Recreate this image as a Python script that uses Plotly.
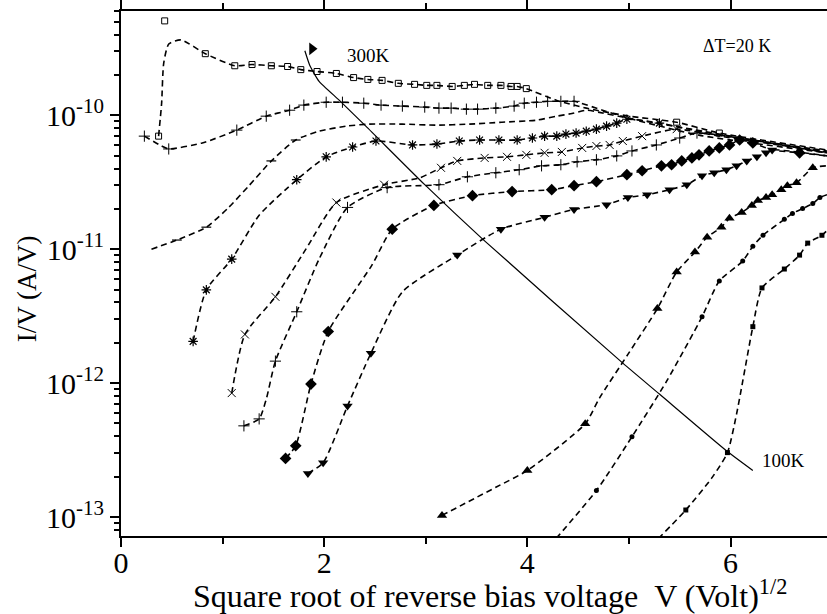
import plotly.graph_objects as go

# ---------------- data ----------------
# 300 K (open squares)
X300 = [0.43, None, 0.37, 0.40, 0.42, 0.47, 0.59, 0.83, 1.12, 1.29, 1.48, 1.64, 1.77, 1.93, 2.12, 2.29, 2.43,
        2.57, 2.73, 2.89, 3.01, 3.11, 3.26, 3.38, 3.48, 3.61, 3.74, 3.84, 3.90, 3.99, 4.29, 4.58, 5.00, 5.47,
        5.89, 6.95]
Y300 = [5.06e-10, None, 6.98e-11, 1.23e-10, 2.43e-10, 3.40e-10, 3.65e-10, 2.88e-10, 2.34e-10, 2.39e-10,
        2.34e-10, 2.31e-10, 2.19e-10, 2.12e-10, 2.05e-10, 1.91e-10, 1.85e-10, 1.82e-10, 1.73e-10, 1.70e-10,
        1.67e-10, 1.67e-10, 1.64e-10, 1.67e-10, 1.70e-10, 1.67e-10, 1.67e-10, 1.64e-10, 1.64e-10, 1.58e-10,
        1.29e-10, 1.13e-10, 9.84e-11, 8.87e-11, 7.36e-11, 5.51e-11]
K300 = [1, 0, 1, 0, 0, 0, 0, 1, 1, 1, 1, 1, 1, 1, 1, 1, 1, 1, 1, 1, 1, 1, 1, 1, 1, 1, 1, 1, 1, 1, 0, 0, 0, 1, 1, 0]

# 280 K (plus)
X280 = [0.23, 0.40, 0.47, 0.80, 1.14, 1.43, 1.66, 1.80, 2.02, 2.18, 2.39, 2.56, 2.77, 2.99, 3.13, 3.25, 3.40,
        3.51, 3.69, 3.87, 3.97, 4.09, 4.20, 4.33, 4.46, 4.74, 5.00, 5.69, 6.95]
Y280 = [6.98e-11, 5.89e-11, 5.60e-11, 6.21e-11, 7.74e-11, 9.84e-11, 1.09e-10, 1.19e-10, 1.25e-10, 1.25e-10,
        1.23e-10, 1.19e-10, 1.17e-10, 1.15e-10, 1.13e-10, 1.13e-10, 1.11e-10, 1.11e-10, 1.13e-10, 1.17e-10,
        1.23e-10, 1.25e-10, 1.27e-10, 1.27e-10, 1.27e-10, 1.09e-10, 9.50e-11, 7.10e-11, 5.24e-11]
K280 = [1, 0, 1, 0, 1, 1, 1, 1, 1, 1, 1, 1, 1, 1, 1, 1, 1, 1, 1, 1, 1, 1, 1, 1, 1, 0, 0, 0, 0]

# 260 K (dash)
X260 = [0.30, 0.55, 0.84, 1.06, 1.26, 1.48, 1.72, 1.95, 2.22, 2.44, 2.77, 3.10, 3.43, 3.75, 4.09, 4.29, 4.44,
        4.58, 4.71, 5.00, 6.95]
Y260 = [1.00e-11, 1.17e-11, 1.46e-11, 2.05e-11, 2.98e-11, 4.56e-11, 6.53e-11, 7.60e-11, 8.29e-11, 8.58e-11,
        8.58e-11, 8.43e-11, 8.58e-11, 8.87e-11, 9.18e-11, 9.84e-11, 1.03e-10, 1.09e-10, 1.05e-10, 9.50e-11,
        5.24e-11]
K260 = [0, 1, 1, 0, 0, 1, 1, 0, 0, 0, 0, 0, 0, 0, 0, 0, 0, 0, 0, 0, 0]

# 240 K (asterisk)
X240 = [0.71, 0.84, 1.09, 1.36, 1.73, 2.02, 2.28, 2.51, 2.87, 3.11, 3.33, 3.53, 3.72, 3.90, 4.05, 4.17, 4.29,
        4.38, 4.48, 4.58, 4.68, 4.78, 4.88, 4.98, 5.30, 5.69, 6.09, 6.95]
Y240 = [2.05e-12, 4.97e-12, 8.43e-12, 1.79e-11, 3.30e-11, 4.89e-11, 5.79e-11, 6.42e-11, 6.00e-11, 6.10e-11,
        6.42e-11, 6.53e-11, 6.53e-11, 6.53e-11, 6.76e-11, 6.98e-11, 6.98e-11, 7.23e-11, 7.36e-11, 7.60e-11,
        7.87e-11, 8.29e-11, 8.73e-11, 9.33e-11, 8.73e-11, 7.60e-11, 6.76e-11, 5.41e-11]
K240 = [1, 1, 1, 0, 1, 1, 1, 1, 1, 1, 1, 1, 1, 1, 1, 1, 1, 1, 1, 1, 1, 1, 1, 1, 1, 0, 0, 0]

# 220 K (cross)
X220 = [1.09, 1.22, 1.52, 1.82, 2.12, 2.59, 2.94, 3.15, 3.31, 3.58, 3.80, 3.99, 4.17, 4.34, 4.54, 4.68, 4.81,
        4.94, 5.13, 5.47, 5.89, 6.95]
Y220 = [8.43e-13, 2.31e-12, 4.41e-12, 1.00e-11, 2.23e-11, 3.03e-11, 3.41e-11, 4.05e-11, 4.56e-11, 4.80e-11,
        4.89e-11, 5.06e-11, 5.24e-11, 5.32e-11, 5.70e-11, 5.89e-11, 6.00e-11, 6.42e-11, 6.98e-11, 7.87e-11,
        6.98e-11, 5.32e-11]
K220 = [1, 1, 1, 0, 1, 1, 0, 1, 1, 1, 1, 1, 1, 1, 1, 1, 1, 1, 1, 1, 0, 0]

# 200 K (plus)
X200 = [1.21, 1.36, 1.43, 1.52, 1.73, 1.95, 2.23, 2.62, 3.13, 3.41, 3.69, 3.92, 4.14, 4.33, 4.49, 4.68, 4.88,
        5.03, 5.27, 5.50, 5.67, 6.95]
Y200 = [4.80e-13, 5.41e-13, 7.60e-13, 1.46e-12, 3.41e-12, 8.43e-12, 2.05e-11, 2.88e-11, 3.03e-11, 3.47e-11,
        3.72e-11, 3.92e-11, 4.19e-11, 4.27e-11, 4.49e-11, 4.65e-11, 4.97e-11, 5.41e-11, 6.00e-11, 6.76e-11,
        7.36e-11, 5.24e-11]
K200 = [1, 1, 0, 1, 1, 0, 1, 1, 1, 1, 1, 1, 1, 1, 1, 1, 1, 1, 1, 1, 1, 0]

# 180 K (filled diamond)
X180 = [1.62, 1.72, 1.87, 2.04, 2.47, 2.67, 3.08, 3.46, 3.85, 4.24, 4.46, 4.68, 4.98, 5.13, 5.32, 5.42, 5.52,
        5.62, 5.69, 5.79, 5.89, 5.99, 6.09, 6.22, 6.41, 6.68, 6.95]
Y180 = [2.74e-13, 3.41e-13, 9.84e-13, 2.43e-12, 7.60e-12, 1.41e-11, 2.12e-11, 2.51e-11, 2.69e-11, 2.78e-11,
        2.98e-11, 3.19e-11, 3.60e-11, 3.85e-11, 4.19e-11, 4.27e-11, 4.56e-11, 4.80e-11, 5.06e-11, 5.41e-11,
        5.70e-11, 6.00e-11, 6.53e-11, 6.21e-11, 5.51e-11, 5.24e-11, 4.97e-11]
K180 = [1, 1, 1, 1, 0, 1, 1, 1, 1, 1, 1, 1, 1, 1, 1, 1, 1, 1, 1, 1, 1, 1, 1, 1, 0, 1, 0]

# 160 K (filled down triangle)
X160 = [1.84, 1.99, 2.23, 2.46, 2.77, 3.31, 3.74, 4.17, 4.46, 4.78, 4.99, 5.18, 5.40, 5.57, 5.72, 5.84, 5.96,
        6.06, 6.16, 6.26, 6.35, 6.41, 6.95]
Y160 = [2.12e-13, 2.55e-13, 6.76e-13, 1.67e-12, 4.80e-12, 9.03e-12, 1.41e-11, 1.73e-11, 1.98e-11, 2.15e-11,
        2.43e-11, 2.55e-11, 2.78e-11, 3.03e-11, 3.53e-11, 3.72e-11, 3.92e-11, 4.19e-11, 4.56e-11, 4.89e-11,
        5.24e-11, 5.51e-11, 4.97e-11]
K160 = [1, 1, 1, 1, 0, 1, 1, 1, 1, 1, 1, 1, 1, 1, 1, 1, 1, 1, 1, 1, 1, 1, 0]

# 140 K (filled up triangle)
X140 = [3.16, 3.69, 4.00, 4.57, 4.71, 4.99, 5.28, 5.47, 5.65, 5.77, 5.91, 5.99, 6.11, 6.21, 6.27, 6.35, 6.41,
        6.50, 6.56, 6.65, 6.81, 6.95]
Y140 = [1.03e-13, 1.67e-13, 2.23e-13, 4.97e-13, 7.74e-13, 1.64e-12, 3.60e-12, 6.76e-12, 9.51e-12, 1.23e-11,
        1.46e-11, 1.70e-11, 1.88e-11, 2.12e-11, 2.31e-11, 2.43e-11, 2.55e-11, 2.78e-11, 2.98e-11, 3.13e-11,
        4.05e-11, 4.19e-11]
K140 = [1, 0, 1, 1, 0, 0, 1, 1, 1, 1, 1, 1, 1, 1, 1, 1, 1, 1, 1, 1, 1, 0]

# 120 K (filled circle)
X120 = [4.22, 4.68, 5.03, 5.37, 5.72, 5.89, 6.12, 6.22, 6.32, 6.53, 6.61, 6.71, 6.81, 6.88, 6.95]
Y120 = [6.1e-14, 1.58e-13, 3.98e-13, 1.03e-12, 3.13e-12, 5.79e-12, 8.15e-12, 1.05e-11, 1.27e-11, 1.67e-11,
        1.85e-11, 2.01e-11, 2.19e-11, 2.43e-11, 2.55e-11]
K120 = [0, 1, 1, 0, 1, 1, 1, 1, 1, 1, 1, 1, 1, 1, 0]

# 100 K (filled square)
X100 = [5.22, 5.56, 5.82, 5.97, 6.06, 6.12, 6.22, 6.31, 6.53, 6.68, 6.76, 6.90, 6.95]
Y100 = [6.1e-14, 1.13e-13, 1.98e-13, 3.03e-13, 5.89e-13, 1.03e-12, 2.64e-12, 5.14e-12, 7.11e-12, 9.03e-12,
        1.11e-11, 1.27e-11, 1.38e-11]
K100 = [0, 1, 0, 1, 0, 0, 1, 1, 1, 1, 1, 1, 0]

# solid guide line from 300 K to 100 K, with flag
XS = [1.81, 1.86, 1.95, 2.15, 2.41, 2.99, 3.56, 4.94, 5.30, 5.96, 6.22]
YS = [3.03e-10, 2.34e-10, 1.79e-10, 1.29e-10, 8.29e-11, 3.03e-11, 1.19e-11, 1.41e-12, 8.29e-13, 3.13e-13, 2.23e-13]
XF = [1.88]
YF = [3.13e-10]

Y_TICKS = [1e-13, 1e-12, 1e-11, 1e-10]
Y_TICKTEXT = ["10<sup>-13</sup>", "10<sup>-12</sup>", "10<sup>-11</sup>", "10<sup>-10</sup>"]

X_TITLE = "Square root of reverse bias voltage \u00a0V (Volt)<sup>1/2</sup>"
Y_TITLE = "I/V (A/V)"

# ---------------- figure ----------------
SERIES = [
    (X300, Y300, K300, "square-open", 6, 1.0),
    (X280, Y280, K280, "cross-thin-open", 8, 1.0),
    (X260, Y260, K260, "line-ew-open", 7, 1.2),
    (X240, Y240, K240, "asterisk-open", 8, 1.2),
    (X220, Y220, K220, "x-thin-open", 8, 1.0),
    (X200, Y200, K200, "cross-thin-open", 8, 1.0),
    (X180, Y180, K180, "diamond", 9, 0),
    (X160, Y160, K160, "triangle-down", 9, 0),
    (X140, Y140, K140, "triangle-up", 9, 0),
    (X120, Y120, K120, "circle", 5, 0),
    (X100, Y100, K100, "square", 5, 0),
]

fig = go.Figure()
for xs, ys, ks, sym, sz, lw in SERIES:
    fig.add_trace(go.Scatter(
        x=xs, y=ys, mode="lines+markers",
        line=dict(color="black", width=1.6, dash="6px,4px", shape="spline", smoothing=0.6),
        marker=dict(symbol=sym, size=[sz if k else 0 for k in ks], color="black", opacity=1,
                    line=dict(color="black", width=lw)),
        showlegend=False, hoverinfo="skip"))

fig.add_trace(go.Scatter(x=XS, y=YS, mode="lines",
                         line=dict(color="black", width=1.2, shape="spline", smoothing=0.5),
                         showlegend=False, hoverinfo="skip"))
fig.add_trace(go.Scatter(x=XF, y=YF, mode="markers",
                         marker=dict(symbol="triangle-right", size=11, color="black"),
                         showlegend=False, hoverinfo="skip"))

FONT = "Liberation Serif"

minor_y = [m * 10.0 ** e for e in range(-14, -9) for m in range(2, 10)]

fig.update_layout(
    width=827, height=614,
    margin=dict(l=121, r=0, t=7, b=78),
    paper_bgcolor="white", plot_bgcolor="white",
    font=dict(family=FONT, color="black"),
    showlegend=False,
    annotations=[
        dict(x=2.44, y=-9.556, xref="x", yref="y", text="300K", showarrow=False,
             font=dict(family=FONT, size=19, color="black")),
        dict(x=6.06, y=-9.481, xref="x", yref="y", text="\u0394T=20 K", showarrow=False,
             font=dict(family=FONT, size=18, color="black")),
        dict(x=6.52, y=-12.578, xref="x", yref="y", text="100K", showarrow=False,
             font=dict(family=FONT, size=19, color="black")),
        dict(x=0.5227, y=-0.11, xref="paper", yref="paper", text=X_TITLE, showarrow=False,
             xanchor="center", yanchor="middle",
             font=dict(family=FONT, size=32, color="black")),
        dict(x=-0.133, y=0.47, xref="paper", yref="paper", text=Y_TITLE, showarrow=False,
             textangle=-90, xanchor="center", yanchor="middle",
             font=dict(family=FONT, size=27, color="black")),
    ],
)

fig.update_xaxes(
    range=[0, 6.95], tick0=0, dtick=2,
    ticks="outside", ticklen=9, tickwidth=2, tickcolor="black",
    showline=True, linewidth=2, linecolor="black", mirror="ticks",
    showgrid=False, zeroline=False,
    tickfont=dict(family=FONT, size=30, color="black"),
    ticklabelstandoff=-10,
    minor=dict(ticks="outside", ticklen=6, tickwidth=1.5, tickcolor="black", dtick=1, showgrid=False),
)

fig.update_yaxes(
    type="log", range=[-13.141, -9.222],
    tickmode="array", tickvals=Y_TICKS, ticktext=Y_TICKTEXT,
    ticks="outside", ticklen=9, tickwidth=2, tickcolor="black",
    showline=True, linewidth=2, linecolor="black",
    showgrid=False, zeroline=False,
    tickfont=dict(family=FONT, size=30, color="black"),
    minor=dict(ticks="outside", ticklen=5, tickwidth=1.5, tickcolor="black",
               tickmode="array", tickvals=minor_y, showgrid=False),
)

fig.write_html("out.html")
